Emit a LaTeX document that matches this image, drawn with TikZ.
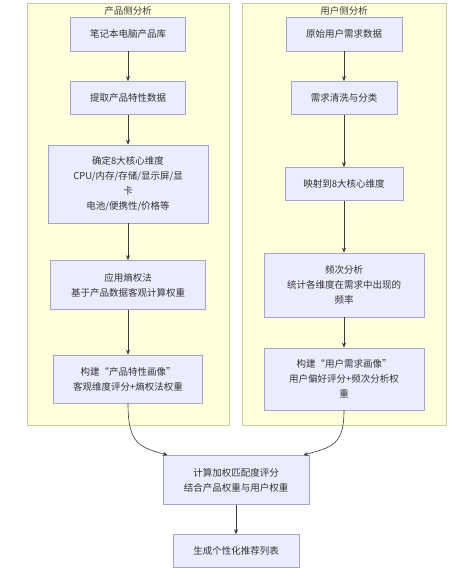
\documentclass[tikz,border=0pt]{standalone}
\usepackage{fontspec}
\setmainfont{Noto Sans CJK SC}
\usetikzlibrary{arrows.meta}

\definecolor{boxfill}{HTML}{ECECFF}
\definecolor{boxline}{HTML}{A8A2CE}
\definecolor{groupfill}{HTML}{FFFFDE}
\definecolor{groupline}{HTML}{CBCB9A}
\definecolor{flowline}{HTML}{3A3A3A}

\begin{document}
\begin{tikzpicture}[
      x=1pt, y=-1pt,
      group/.style={draw=groupline, fill=groupfill, line width=0.6pt},
      grouptitle/.style={font=\fontsize{9.5}{11}\selectfont, text=black!75},
      box/.style={draw=boxline, fill=boxfill, line width=0.7pt, align=center,
        inner sep=0pt, font=\fontsize{9.5}{15}\selectfont, text=black!80},
      flow/.style={draw=flowline, line width=0.6pt, -{Stealth[length=5pt,width=4pt]}}
    ]
    \useasboundingbox (0,0) rectangle (470,573);
    \fill[white] (0,0) rectangle (470,573);

    % Two analysis groups
    \draw[group] (27,3) rectangle (229,425);
    \draw[group] (242,3) rectangle (446,425);
    \node[grouptitle] (ptitle) at (128,11) {产品侧分析};
    \node[grouptitle] (utitle) at (344,11) {用户侧分析};

    % Product side
    \node[box, minimum width=115pt, minimum height=34pt] (p1) at (128,34) {笔记本电脑产品库};
    \node[box, minimum width=115pt, minimum height=33pt] (p2) at (128,98) {提取产品特性数据};
    \node[box, minimum width=160pt, minimum height=78pt] (p3) at (128,184)
      {确定8大核心维度\\CPU/内存/存储/显示屏/显\\卡\\电池/便携性/价格等};
    \node[box, minimum width=155pt, minimum height=49pt] (p4) at (128,285)
      {应用熵权法\\基于产品数据客观计算权重};
    \node[box, minimum width=149pt, minimum height=48pt] (p5) at (128,379)
      {构建“产品特性画像”\\客观维度评分+熵权法权重};

    % User side
    \node[box, minimum width=116pt, minimum height=34pt] (u1) at (344,34) {原始用户需求数据};
    \node[box, minimum width=106pt, minimum height=33pt] (u2) at (344,98) {需求清洗与分类};
    \node[box, minimum width=118pt, minimum height=33pt] (u3) at (344,184) {映射到8大核心维度};
    \node[box, minimum width=160pt, minimum height=64pt] (u4) at (344,285)
      {频次分析\\统计各维度在需求中出现的\\频率};
    \node[box, minimum width=160pt, minimum height=62pt] (u5) at (344,379)
      {构建“用户需求画像”\\用户偏好评分+频次分析权\\重};

    % Matching and result
    \node[box, minimum width=146pt, minimum height=49pt] (match) at (236,480)
      {计算加权匹配度评分\\结合产品权重与用户权重};
    \node[box, minimum width=126pt, minimum height=33pt] (result) at (236,551) {生成个性化推荐列表};

    % Straight connectors
    \foreach \a/\b in {p1/p2, p2/p3, p3/p4, p4/p5, u1/u2, u2/u3, u3/u4, u4/u5, match/result} {
      \draw[flow] (\a.south) -- (\b.north);
    }

    % Curved connectors into the matching step
    \coordinate (pin) at ([xshift=5pt]match.north west);
    \coordinate (uin) at ([xshift=-6pt]match.north east);
    \draw[flow] (p5.south) .. controls (128,445) and (140,447) .. (pin);
    \draw[flow] (u5.south) .. controls (344,445) and (332,447) .. (uin);
  \end{tikzpicture}
\end{document}
